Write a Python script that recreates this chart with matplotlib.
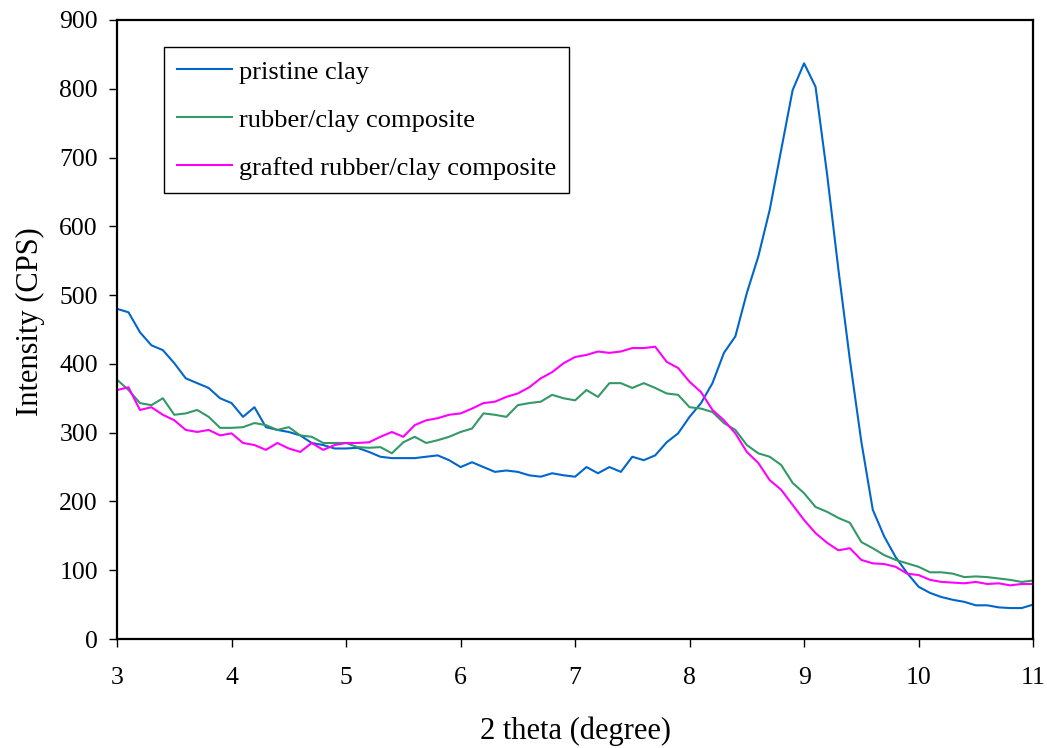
import matplotlib
matplotlib.use("Agg")
import matplotlib.pyplot as plt
import numpy as np

two_theta = [round(3.0 + 0.1 * i, 1) for i in range(81)]

pristine_clay = [
    480, 475, 446, 427, 420, 401, 379, 372, 365, 350,
    343, 323, 337, 308, 304, 301, 296, 285, 282, 277,
    277, 278, 272, 265, 263, 263, 263, 265, 267, 260,
    250, 257, 250, 243, 245, 243, 238, 236, 241, 238,
    236, 250, 241, 250, 243, 265, 260, 267, 286, 299,
    323, 343, 372, 416, 440, 503, 556, 624, 711, 798,
    837, 803, 677, 537, 406, 287, 188, 149, 119, 96,
    76, 67, 61, 57, 54, 49, 49, 46, 45, 45,
    50,
]

rubber_clay = [
    377, 362, 343, 340, 350, 326, 328, 333, 323, 307,
    307, 308, 314, 311, 304, 308, 296, 294, 285, 285,
    285, 279, 278, 279, 270, 286, 294, 285, 289, 294,
    301, 306, 328, 326, 323, 340, 343, 345, 355, 350,
    347, 362, 352, 372, 372, 365, 372, 365, 357, 355,
    337, 335, 330, 314, 304, 282, 270, 265, 253, 227,
    212, 192, 185, 176, 169, 141, 132, 122, 115, 110,
    105, 97, 97, 95, 90, 91, 90, 88, 86, 83,
    85,
]

grafted_rubber_clay = [
    362, 366, 333, 337, 326, 318, 304, 301, 304, 296,
    299, 285, 282, 275, 285, 277, 272, 285, 275, 282,
    285, 285, 286, 294, 301, 294, 311, 318, 321, 326,
    328, 335, 343, 345, 352, 357, 366, 379, 388, 401,
    410, 413, 418, 416, 418, 423, 423, 425, 403, 394,
    374, 359, 333, 318, 299, 272, 256, 231, 217, 195,
    173, 154, 140, 129, 132, 115, 110, 109, 105, 95,
    93, 86, 83, 82, 81, 83, 80, 81, 78, 80,
    80,
]

series_labels = ["pristine clay", "rubber/clay composite", "grafted rubber/clay composite"]
series_colors = ["#0066CC", "#339966", "#FF00FF"]

x_ticks = [3, 4, 5, 6, 7, 8, 9, 10, 11]
y_ticks = [0, 100, 200, 300, 400, 500, 600, 700, 800, 900]

plt.rcParams['font.family'] = ['Liberation Serif', 'DejaVu Serif']

fig = plt.figure(figsize=(10.47, 7.48), dpi=100)
ax = fig.add_axes([0.1118, 0.1457, 0.8749, 0.8276])

for data, lab, col in zip([pristine_clay, rubber_clay, grafted_rubber_clay], series_labels, series_colors):
    ax.plot(two_theta, data, color=col, linewidth=1.5, label=lab)

ax.set_xlim(3, 11)
ax.set_ylim(0, 900)
ax.set_xticks(x_ticks)
ax.set_yticks(y_ticks)
ax.tick_params(axis='both', direction='out', length=5.8, width=1, labelsize=18.5, colors='black')
ax.tick_params(axis='x', pad=14.5)
ax.tick_params(axis='y', pad=8)
for s in ax.spines.values():
    s.set_linewidth(1.6)
    s.set_color('black')

ax.set_xlabel("2 theta (degree)", fontsize=22, labelpad=20)
ax.set_ylabel("Intensity (CPS)", fontsize=22, labelpad=10, y=0.513)

leg = ax.legend(loc='upper left', bbox_to_anchor=(0.0513, 0.9564), fontsize=19,
                frameon=True, fancybox=False, edgecolor='black', framealpha=1,
                handlelength=2.08, handletextpad=0.25, labelspacing=0.93, borderpad=0.5,
                borderaxespad=0)
leg.get_frame().set_linewidth(1.0)

fig.savefig("out.png", dpi=100)
